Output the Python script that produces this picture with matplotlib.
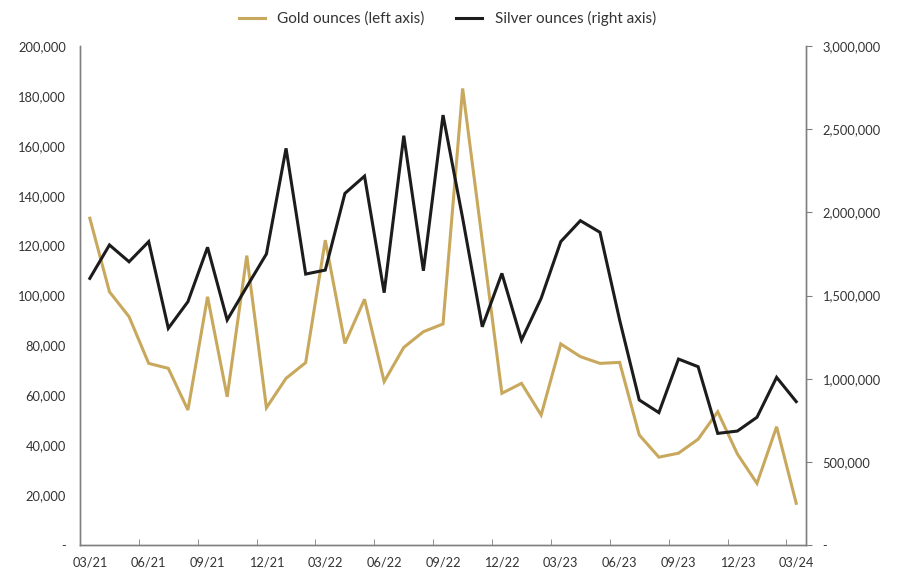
import matplotlib
matplotlib.use("Agg")
import matplotlib.pyplot as plt
import matplotlib.ticker as mticker

months = ["03/21","04/21","05/21","06/21","07/21","08/21","09/21","10/21","11/21","12/21",
          "01/22","02/22","03/22","04/22","05/22","06/22","07/22","08/22","09/22","10/22",
          "11/22","12/22","01/23","02/23","03/23","04/23","05/23","06/23","07/23","08/23",
          "09/23","10/23","11/23","12/23","01/24","02/24","03/24"]
gold = [131000, 101500, 91500, 72800, 70800, 54100, 99500, 59400, 116000, 55000,
        66800, 73100, 122200, 80800, 98500, 65500, 79200, 85500, 88600, 183000,
        122000, 60800, 64800, 52100, 80600, 75500, 72800, 73200, 44100, 35200,
        36800, 42400, 53400, 36500, 24700, 47400, 16700]
silver = [1603000, 1804000, 1703000, 1824000, 1303000, 1463000, 1790000, 1353000, 1553000, 1750000,
          2385000, 1629000, 1653000, 2114000, 2218000, 1517000, 2461000, 1649000, 2585000, 1965000,
          1312000, 1633000, 1232000, 1483000, 1824000, 1950000, 1880000, 1353000, 872000, 796000,
          1118000, 1072000, 671000, 685000, 768000, 1008000, 862000]

plt.rcParams['font.family'] = ['Lato', 'DejaVu Sans']
GOLD = "#C8A85C"
BLACK = "#1C1C1C"
SPINE = "#808080"
TXT = "#333333"

fig = plt.figure(figsize=(9, 5.83), dpi=100)
ax = fig.add_axes([0.0889, 0.0652, 0.8067, 0.8558])
ax2 = ax.twinx()

x = list(range(len(months)))
l1, = ax.plot(x, gold, color=GOLD, lw=2.2, label="Gold ounces (left axis)", solid_joinstyle='miter')
l2, = ax2.plot(x, silver, color=BLACK, lw=2.2, label="Silver ounces (right axis)", solid_joinstyle='miter')

ax.set_xlim(-0.5, len(months) - 0.5)
ax.set_ylim(0, 200000)
ax2.set_ylim(0, 3000000)

def fmt(v, p):
    return "-" if v == 0 else f"{int(v):,}"

ax.yaxis.set_major_locator(mticker.MultipleLocator(20000))
ax.yaxis.set_major_formatter(mticker.FuncFormatter(fmt))
ax2.yaxis.set_major_locator(mticker.MultipleLocator(500000))
ax2.yaxis.set_major_formatter(mticker.FuncFormatter(fmt))

ax.set_xticks(x[::3])
ax.set_xticklabels(months[::3])
ax.set_xticks([i + 0.5 for i in range(2, len(months) - 1, 3)], minor=True)
ax.tick_params(axis='x', which='major', length=0, pad=8, labelsize=9.2, labelcolor=TXT)
ax.tick_params(axis='x', which='minor', length=4, color=SPINE, direction='in')
ax.tick_params(axis='y', length=0, pad=10, labelsize=9.3, labelcolor=TXT)
ax2.tick_params(axis='y', length=4, direction='out', color=SPINE, pad=8, labelsize=9.3, labelcolor=TXT)

for a in (ax, ax2):
    a.spines['top'].set_visible(False)
    for s in ('left', 'right', 'bottom'):
        a.spines[s].set_color(SPINE)
        a.spines[s].set_linewidth(1.0)

fig.legend(handles=[l1, l2], loc='upper center', bbox_to_anchor=(0.497, 1.005), ncol=2,
           frameon=False, fontsize=11, handlelength=1.7, handletextpad=0.8,
           columnspacing=2.1, labelcolor=TXT)

fig.savefig("out.png", dpi=100, facecolor='white')
